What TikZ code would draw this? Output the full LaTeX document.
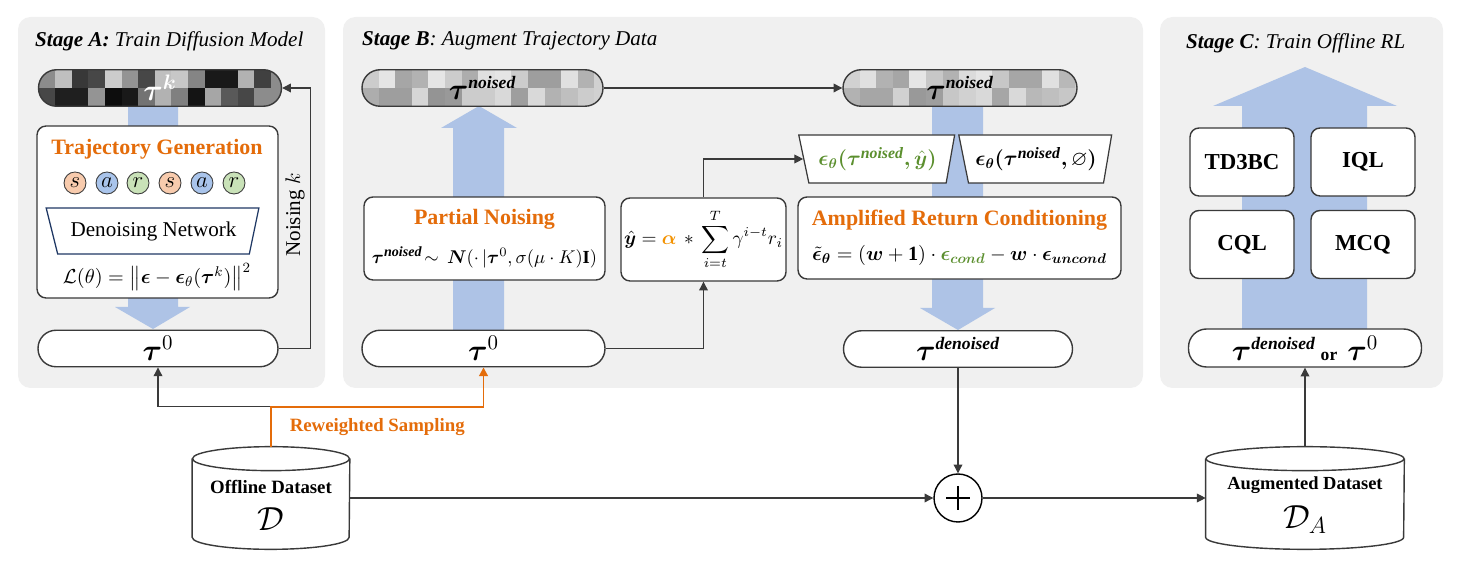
\documentclass[tikz,border=0pt]{standalone}
\usepackage{fix-cm}
\usepackage{amsmath, amssymb}
\usepackage{bm}
\usepackage{fontspec}
\setmainfont{Liberation Serif}
\usetikzlibrary{arrows.meta, calc, shapes.geometric}

\definecolor{panelgray}{HTML}{F0F0F0}
\definecolor{flowblue}{HTML}{AEC3E6}
\definecolor{stageorange}{HTML}{E46C0A}
\definecolor{alphaorange}{HTML}{F39200}
\definecolor{condgreen}{HTML}{5B8F2E}
\definecolor{edgegray}{HTML}{3A3A3A}
\definecolor{sfill}{HTML}{F8CBAD}
\definecolor{afill}{HTML}{A9C4EB}
\definecolor{rfill}{HTML}{C9E2B8}
\definecolor{netblue}{HTML}{1F3864}

% bold italic word used as a superscript
\newcommand{\sw}[2]{\text{\fontsize{#1}{#1}\selectfont\bfseries\itshape #2}}

% checkered filling of a trajectory pill (two rows of cells)
\newcommand{\checker}[2]{%
  \foreach \v [count=\i from 0] in {#1}
    \fill[sharp corners, black!\v] ($(path picture bounding box.north west)+(\i*16.6,0)$) rectangle ++(16.6,18.5);
  \foreach \v [count=\i from 0] in {#2}
    \fill[sharp corners, black!\v] ($(path picture bounding box.north west)+(\i*16.6,18.5)$) rectangle ++(16.6,18.5);
}

\begin{document}
\begin{tikzpicture}[x=0.02cm, y=-0.02cm,
    >={Triangle[length=5pt,width=5pt]},
    panel/.style={fill=panelgray, rounded corners=0.25cm},
    title/.style={anchor=west, font=\fontsize{12}{14}\selectfont\itshape},
    pill/.style={draw=edgegray, line width=0.8pt, rounded corners=0.36cm, minimum height=0.73cm, fill=white, inner sep=0pt, font=\fontsize{17}{20}\selectfont},
    card/.style={draw=edgegray, line width=0.8pt, rounded corners=0.18cm, fill=white, align=center, inner sep=1pt},
    algo/.style={card, minimum width=2.08cm, minimum height=1.36cm, font=\fontsize{13}{15}\selectfont\bfseries},
    headline/.style={text=stageorange, font=\fontsize{12.5}{15}\selectfont\bfseries},
    token/.style={circle, draw=edgegray, line width=0.5pt, minimum size=0.44cm, inner sep=0pt, font=\fontsize{13}{13}\selectfont},
    eps/.style={trapezium, trapezium stretches=true, trapezium left angle=110, trapezium right angle=107, draw=edgegray, line width=0.7pt, fill=white, minimum height=0.96cm, inner sep=0pt},
    flow/.style={fill=flowblue},
    link/.style={draw=edgegray, line width=0.6pt},
    resample/.style={draw=stageorange, line width=1.1pt}
  ]
  \useasboundingbox (0,0) rectangle (1464,570);

  % grey stage panels
  \fill[panel] (18,17) rectangle (325,388);
  \fill[panel] (343,17) rectangle (1143,388);
  \fill[panel] (1160,17) rectangle (1443,388);

  \node[title] (titleA) at (29,41) {\textbf{Stage A:} Train Diffusion Model};
  \node[title] (titleB) at (356,41) {\textbf{Stage B}: Augment Trajectory Data};
  \node[title] (titleC) at (1180,43) {\textbf{Stage C}: Train Offline RL};

  % wide blue arrows (behind the boxes)
  \fill[flow] (128,100) -- (178,100) -- (178,307) -- (190,307) -- (153,329) -- (115,307) -- (128,307) -- cycle;
  \fill[flow] (453,330) -- (453,128) -- (441,128) -- (479,106) -- (517,128) -- (504,128) -- (504,330) -- cycle;
  \fill[flow] (932,100) -- (983,100) -- (983,308) -- (995,308) -- (958,330) -- (920,308) -- (932,308) -- cycle;
  \fill[flow] (1242,329) -- (1242,106) -- (1213,106) -- (1305,67) -- (1397,106) -- (1367,106) -- (1367,329) -- cycle;

  % Stage A
  \node[pill, minimum width=4.86cm,
        path picture={\checker{45,25,78,72,20,42,72,25,22,48,90,90,30,75,45}{72,88,88,42,95,90,55,30,50,92,35,65,72,45,45}}]
        (tauk) at (160,88) {\color{white}$\bm{\tau}^{\bm{k}}$};
  \node[card, minimum width=4.82cm, minimum height=3.44cm] (trajgen) at (157.5,212) {};
  \node[headline] (trajtitle) at (157,149) {Trajectory Generation};
  \foreach \t/\c/\x [count=\n] in {s/sfill/75, a/afill/107, r/rfill/138, s/sfill/170, a/afill/202, r/rfill/234}
    \node[token, fill=\c] (tok\n) at (\x,183) {$\t$};
  \node[trapezium, trapezium stretches=true, trapezium left angle=109, trapezium right angle=106,
        draw=netblue, line width=0.7pt, fill=white, minimum width=4.26cm, minimum height=0.92cm,
        font=\fontsize{12}{14}\selectfont] (denoiser) at (153.5,231) {Denoising Network};
  \node[font=\fontsize{11.5}{14}\selectfont] (lossA) at (157,277)
    {$\mathcal{L}(\theta) = \left\|\bm{\epsilon} - \bm{\epsilon}_{\theta}(\bm{\tau}^{k})\right\|^{2}$};
  \node[pill, minimum width=4.8cm] (tau0A) at (158,348.5) {$\bm{\tau}^{0}$};
  \draw[link, ->] (tau0A.east) -- ++(32,0) |- (tauk.east);
  \node[rotate=90, font=\fontsize{12}{14}\selectfont] (noisek) at (295,215) {Noising $k$};

  % Stage B
  \node[pill, minimum width=4.82cm,
        path picture={\checker{20,10,35,30,10,20,32,12,10,20,38,38,12,30,18}{32,38,38,16,42,40,20,20,15,38,15,30,25,20,18}}]
        (taunA) at (482.5,88) {$\bm{\tau}^{\sw{10}{noised}}$};
  \node[pill, minimum width=4.68cm,
        path picture={\checker{18,12,30,35,10,22,30,14,10,22,35,35,12,28,20}{30,35,35,18,40,38,22,18,15,35,15,28,25,22,20}}]
        (taunB) at (960,88) {$\bm{\tau}^{\sw{10}{noised}}$};
  \draw[link, ->] (taunA.east) -- (taunB.west);

  \node[card, minimum width=4.82cm, minimum height=1.66cm] (pnoise) at (484.5,238.5)
    {{\color{stageorange}\fontsize{12.5}{15}\selectfont\bfseries Partial Noising}\\[9pt]
     \fontsize{10.5}{13}\selectfont $\bm{\tau}^{\sw{8}{noised}}\!\sim\,\bm{N}(\cdot\,|\bm{\tau}^{0},\sigma(\mu\cdot K)\mathbf{I})$};
  \node[pill, minimum width=4.86cm] (tau0B) at (483.5,348.5) {$\bm{\tau}^{0}$};

  \node[card, minimum width=3.3cm, minimum height=1.66cm, font=\fontsize{11}{13}\selectfont] (yhat) at (703.5,239.5)
    {$\displaystyle \bm{\hat{y}} = {\color{alphaorange}\bm{\alpha}} \,*\, \sum_{i=t}^{T}\gamma^{i-t} r_{i}$};
  \draw[link, ->] (tau0B.east) -| (yhat.south);

  \node[eps, minimum width=3.14cm, font=\fontsize{12}{14}\selectfont] (epsc) at (877.5,159)
    {\color{condgreen}$\bm{\epsilon_{\theta}(\tau}^{\sw{9}{noised}}\bm{,\hat{y})}$};
  \node[eps, minimum width=3.08cm, font=\fontsize{12}{14}\selectfont] (epsu) at (1036,159)
    {$\bm{\epsilon_{\theta}(\tau}^{\sw{9}{noised}}\bm{,}\varnothing\bm{)}$};
  \draw[link, ->] (yhat.north) |- (epsc.west);

  \node[card, minimum width=6.46cm, minimum height=1.64cm] (amp) at (959.5,238)
    {{\color{stageorange}\fontsize{12.5}{15}\selectfont\bfseries Amplified Return Conditioning}\\[8pt]
     \fontsize{11.5}{14}\selectfont $\tilde{\bm{\epsilon}}_{\bm{\theta}} = (\bm{w}+\mathbf{1})\cdot{\color{condgreen}\bm{\epsilon}_{\bm{cond}}} - \bm{w}\cdot\bm{\epsilon}_{\bm{uncond}}$};
  \node[pill, minimum width=4.58cm] (taud) at (958,349) {$\bm{\tau}^{\sw{10}{denoised}}$};

  % Stage C
  \node[algo] (td3bc) at (1242,162) {TD3BC};
  \node[algo] (iql) at (1363,162) {IQL};
  \node[algo] (cql) at (1242,244.5) {CQL};
  \node[algo] (mcq) at (1363,244.5) {MCQ};
  \node[pill, minimum width=4.66cm, minimum height=0.76cm] (tauC) at (1305,348)
    {$\bm{\tau}^{\sw{10}{denoised}}$\,{\fontsize{10}{10}\selectfont\bfseries or}\,\,$\bm{\tau}^{0}$};

  % datasets
  \node[minimum width=3.14cm, minimum height=2.04cm] (offline) at (271,498) {};
  \draw[link, line width=0.8pt, fill=white] ($(offline.north west)+(0,12)$) -- ($(offline.south west)+(0,-12)$)
    arc[start angle=180, end angle=360, x radius=1.57cm, y radius=0.24cm] -- ($(offline.north east)+(0,12)$);
  \draw[link, line width=0.8pt, fill=white] ($(offline.north)+(0,12)$) ellipse [x radius=1.57cm, y radius=0.24cm];
  \node[align=center] (offlinetxt) at (271,505)
    {{\fontsize{10.7}{13}\selectfont\bfseries Offline Dataset}\\[7pt] {\fontsize{19}{21}\selectfont$\mathcal{D}$}};

  \node[minimum width=3.96cm, minimum height=2.04cm] (augdata) at (1305,498) {};
  \draw[link, line width=0.8pt, fill=white] ($(augdata.north west)+(0,12)$) -- ($(augdata.south west)+(0,-12)$)
    arc[start angle=180, end angle=360, x radius=1.98cm, y radius=0.24cm] -- ($(augdata.north east)+(0,12)$);
  \draw[link, line width=0.8pt, fill=white] ($(augdata.north)+(0,12)$) ellipse [x radius=1.98cm, y radius=0.24cm];
  \node[align=center] (augtxt) at (1305,505)
    {{\fontsize{10.5}{13}\selectfont\bfseries Augmented Dataset}\\[6pt] {\fontsize{19}{21}\selectfont$\mathcal{D}_{A}$}};

  \node[circle, draw=black, line width=0.8pt, fill=white, minimum size=0.96cm] (plus) at (958,498) {};
  \draw[line width=1pt] ($(plus.center)+(-12,0)$) -- ($(plus.center)+(12,0)$);
  \draw[line width=1pt] ($(plus.center)+(0,-12)$) -- ($(plus.center)+(0,12)$);

  % connectors
  \coordinate (split) at ($(offline.north)+(0,-40)$);
  \draw[link, ->] (split) -| (tau0A.south);
  \draw[resample, ->] (offline.north) -- (split) -| node[pos=0.25, below=3pt, text=stageorange,
      font=\fontsize{10.7}{13}\selectfont\bfseries] (resamplelbl) {Reweighted Sampling} (tau0B.south);
  \draw[link, ->] (offline.east) -- (plus.west);
  \draw[link, ->] (taud.south) -- (plus.north);
  \draw[link, ->] (plus.east) -- (augdata.west);
  \draw[link, ->] (augdata.north) -- (tauC.south);
\end{tikzpicture}
\end{document}
